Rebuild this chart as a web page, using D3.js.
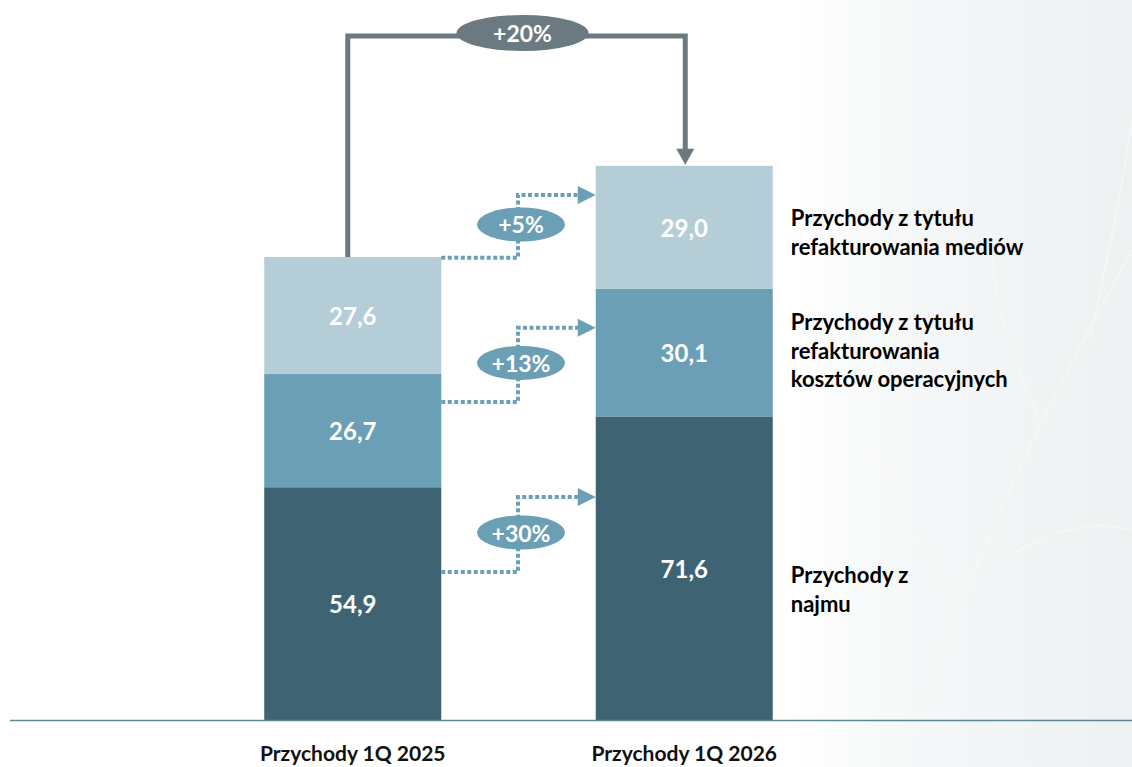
<!DOCTYPE html>
<html><head><meta charset="utf-8">
<script src="https://cdn.jsdelivr.net/npm/d3@7"></script>
<style>body{margin:0;background:#fff;}svg{display:block;font-family:Lato,"Open Sans",sans-serif;font-weight:bold;}</style>
</head><body>
<svg id="c" width="1132" height="767"></svg>
<script>
const categories = ["Przychody 1Q 2025", "Przychody 1Q 2026"];
const seriesNames = ["Przychody z najmu", "Przychody z tytułu refakturowania kosztów operacyjnych", "Przychody z tytułu refakturowania mediów"];
const najmu = [54.9, 71.6];
const koszty = [26.7, 30.1];
const media = [27.6, 29.0];
const valueLabels = [["54,9", "71,6"], ["26,7", "30,1"], ["27,6", "29,0"]];
const legendLines = [["Przychody z", "najmu"], ["Przychody z tytułu", "refakturowania", "kosztów operacyjnych"], ["Przychody z tytułu", "refakturowania mediów"]];
const growthLabels = ["+30%", "+13%", "+5%"];
const totalGrowth = "+20%";
// connector levels (value units) where dotted arrows leave bar 1 and enter bar 2
const connStart = [34.9, 75.0, 109.0];
const connEnd = [52.6, 92.5, 123.8];
const colors = ["#3e6474", "#6b9fb5", "#b4cdd7"];

const svg = d3.select("#c");
const defs = svg.append("defs");
const g = defs.append("linearGradient").attr("id","bg").attr("x1","0").attr("x2","1");
g.append("stop").attr("offset","0").attr("stop-color","#ffffff");
g.append("stop").attr("offset","0.35").attr("stop-color","#f5f7f8");
g.append("stop").attr("offset","1").attr("stop-color","#eef1f2");
svg.append("rect").attr("x",790).attr("y",0).attr("width",342).attr("height",767).attr("fill","url(#bg)");
// faint leaf veins
const veins = svg.append("g").attr("stroke","#fbfcfc").attr("stroke-width",1.2).attr("fill","none").attr("opacity",0.7);
[[ [900,767],[960,600],[1040,420],[1132,250] ],[ [1000,560],[1080,520],[1132,530] ],[ [960,600],[900,520],[870,430] ],[ [1040,420],[1000,330],[990,240] ],[ [1090,340],[1120,200],[1132,120] ]].forEach(p=>{
  veins.append("path").attr("d", d3.line().curve(d3.curveBasis)(p));
});

const x = d3.scaleBand().domain(categories).range([187, 850]).paddingInner(0.466).paddingOuter(0.233);
const y = d3.scaleLinear().domain([0, 109.2]).range([720, 257]);

const series = [najmu, koszty, media];
const stack = categories.map((c,i)=>{ let acc=0; return series.map((s,k)=>{ const y0=acc; acc+=s[i]; return {c, k, y0, y1:acc, label:valueLabels[k][i]}; }); }).flat();

svg.append("g").selectAll("rect").data(stack).join("rect")
  .attr("x", d=>x(d.c)).attr("width", x.bandwidth())
  .attr("y", d=>y(d.y1)).attr("height", d=>y(d.y0)-y(d.y1))
  .attr("fill", d=>colors[d.k]);

svg.append("g").selectAll("text").data(stack).join("text")
  .attr("x", d=>x(d.c)+x.bandwidth()/2).attr("y", d=>(y(d.y0)+y(d.y1))/2)
  .attr("text-anchor","middle").attr("dominant-baseline","central")
  .attr("fill","#fff").attr("font-size",24).text(d=>d.label);

// baseline
svg.append("line").attr("x1",10).attr("x2",1132).attr("y1",y(0)+0.5).attr("y2",y(0)+0.5).attr("stroke","#5f8596").attr("stroke-width",1.6);

// category labels
svg.append("g").selectAll("text").data(categories).join("text")
  .attr("x", d=>x(d)+x.bandwidth()/2).attr("y", 752).attr("text-anchor","middle").attr("dominant-baseline","central")
  .attr("font-size",21).attr("fill","#111").text(d=>d);

// legend labels
const total2 = najmu[1]+koszty[1]+media[1];
const lx = x(categories[1]) + x.bandwidth() + 18;
const legY = [589, 350, 232];
legendLines.forEach((lines,k)=>{
  const t = svg.append("text").attr("x", lx).attr("font-size",22).attr("fill","#000");
  const n = lines.length;
  lines.forEach((ln,i)=>{
    t.append("tspan").attr("x", lx).attr("y", legY[k] + (i-(n-1)/2)*28.5).attr("dominant-baseline","central").text(ln);
  });
});

// top total arrow
const grey = "#6b7a80";
const x1c = x(categories[0]) + x.bandwidth()/2 - 5;
const x2c = x(categories[1]) + x.bandwidth()/2 + 1;
const topY = 36;
const total1 = najmu[0]+koszty[0]+media[0];
svg.append("path").attr("d", `M${x1c},${y(total1)} V${topY} H${x2c} V${y(total2)-16}`)
  .attr("fill","none").attr("stroke",grey).attr("stroke-width",5);
svg.append("path").attr("d", `M${x2c-9},${y(total2)-17} L${x2c+9},${y(total2)-17} L${x2c},${y(total2)-1} Z`).attr("fill",grey);
const ecx = (x1c+x2c)/2 + 6;
svg.append("ellipse").attr("cx",ecx).attr("cy",33).attr("rx",66).attr("ry",18).attr("fill",grey);
svg.append("text").attr("x",ecx).attr("y",33).attr("text-anchor","middle").attr("dominant-baseline","central").attr("fill","#fff").attr("font-size",23).text(totalGrowth);

// dotted connectors
const blue = "#6b9fb5";
const bx1 = x(categories[0]) + x.bandwidth();
const bx2 = x(categories[1]);
const midX = 518;
connStart.forEach((v,i)=>{
  const ys = y(v), ye = y(connEnd[i]);
  svg.append("path").attr("d", `M${bx1},${ys} H${midX} V${ye} H${bx2-16}`)
    .attr("fill","none").attr("stroke",blue).attr("stroke-width",4).attr("stroke-dasharray","4,2.5");
  svg.append("path").attr("d", `M${bx2-18},${ye-9} L${bx2},${ye} L${bx2-18},${ye+9} Z`).attr("fill",blue);
  const cy = (ys+ye)/2 - 2;
  svg.append("ellipse").attr("cx",midX+3).attr("cy",cy).attr("rx",44).attr("ry",17).attr("fill",blue);
  svg.append("text").attr("x",midX+3).attr("y",cy).attr("text-anchor","middle").attr("dominant-baseline","central").attr("fill","#fff").attr("font-size",23).text(growthLabels[i]);
});
</script>
</body></html>
